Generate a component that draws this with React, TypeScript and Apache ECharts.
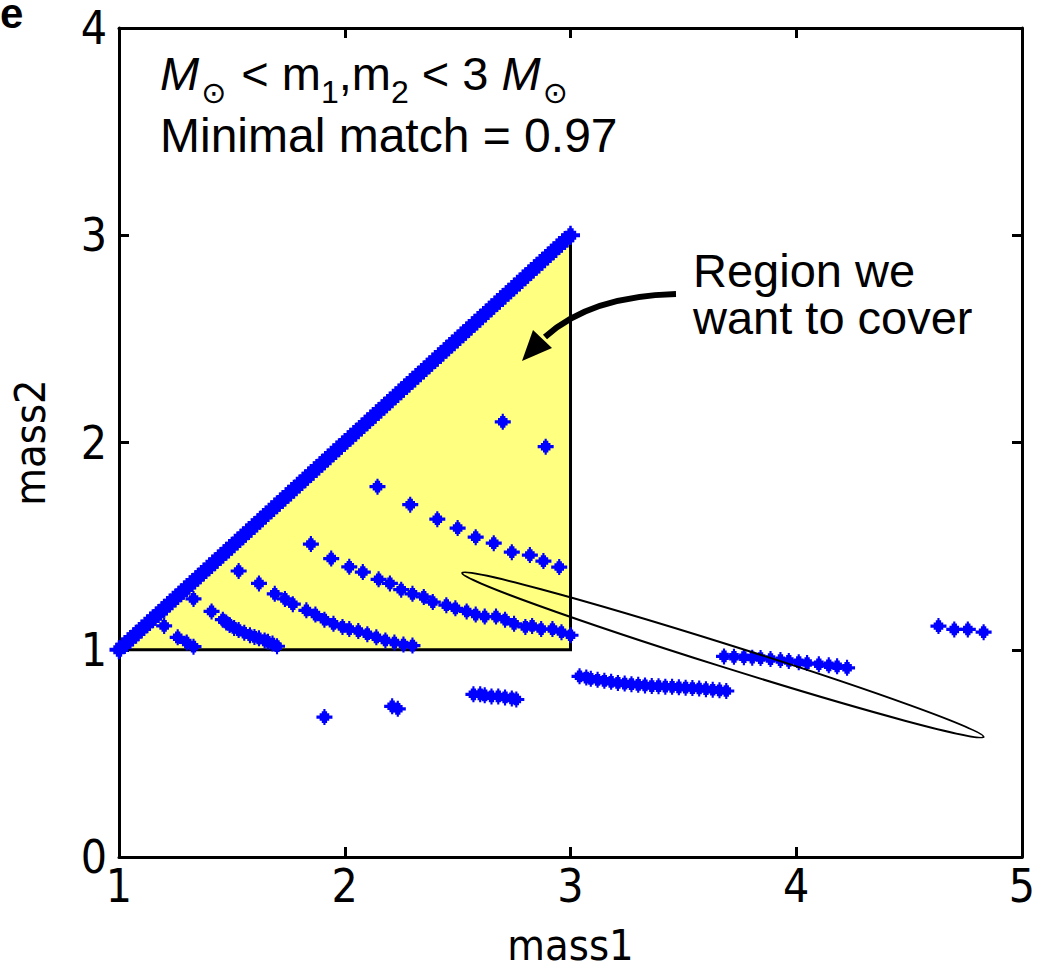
import React, { useEffect, useRef } from "react";
import * as echarts from "echarts";

// ---------- data ----------
const xTicks = [1, 2, 3, 4, 5];
const yTicks = [0, 1, 2, 3, 4];

// equal-mass template line (m1 = m2)
const diagonalMass = [1.000,1.025,1.050,1.075,1.100,1.125,1.150,1.175,1.200,1.225,1.250,1.275,1.300,1.325,1.350,1.375,1.400,1.425,1.450,1.475,1.500,1.525,1.550,1.575,1.600,1.625,1.650,1.675,1.700,1.725,1.750,1.775,1.800,1.825,1.850,1.875,1.900,1.925,1.950,1.975,2.000,2.025,2.050,2.075,2.100,2.125,2.150,2.175,2.200,2.225,2.250,2.275,2.300,2.325,2.350,2.375,2.400,2.425,2.450,2.475,2.500,2.525,2.550,2.575,2.600,2.625,2.650,2.675,2.700,2.725,2.750,2.775,2.800,2.825,2.850,2.875,2.900,2.925,2.950,2.975,3.000];

const isolatedM1 = [2.70, 2.89];
const isolatedM2 = [2.10, 1.98];

const row1M1 = [2.145, 2.29, 2.41, 2.50, 2.58, 2.66, 2.74, 2.82, 2.88, 2.95];
const row1M2 = [1.787, 1.70, 1.63, 1.587, 1.543, 1.514, 1.471, 1.457, 1.428, 1.399];

const rowAM1 = [1.85, 1.94, 2.02, 2.08, 2.15, 2.20, 2.25, 2.30, 2.35, 2.39, 2.45, 2.49, 2.54, 2.58, 2.62, 2.67, 2.71, 2.75, 2.80, 2.83, 2.87, 2.92, 2.96, 3.00];
const rowAM2 = [1.51, 1.44, 1.40, 1.375, 1.34, 1.32, 1.29, 1.27, 1.255, 1.23, 1.215, 1.20, 1.185, 1.17, 1.16, 1.16, 1.145, 1.125, 1.11, 1.115, 1.10, 1.10, 1.085, 1.07];

const rowBM1 = [1.53, 1.62, 1.69, 1.735, 1.77, 1.83, 1.87, 1.91, 1.95, 1.99, 2.02, 2.06, 2.10, 2.14, 2.18, 2.22, 2.26, 2.30];
const rowBM2 = [1.38, 1.32, 1.27, 1.245, 1.22, 1.19, 1.17, 1.145, 1.125, 1.11, 1.10, 1.09, 1.075, 1.06, 1.045, 1.035, 1.025, 1.02];

const rowCM1 = [1.33, 1.41, 1.46, 1.475, 1.49, 1.51, 1.53, 1.555, 1.58, 1.60, 1.62, 1.645, 1.66, 1.68, 1.70];
const rowCM2 = [1.245, 1.185, 1.145, 1.132, 1.12, 1.105, 1.095, 1.082, 1.07, 1.062, 1.055, 1.045, 1.038, 1.03, 1.017];

const rowDM1 = [1.20, 1.26, 1.30, 1.33];
const rowDM2 = [1.115, 1.06, 1.035, 1.015];

const lowSingleM1 = [1.91];
const lowSingleM2 = [0.675];

const lowPairM1 = [2.21, 2.235];
const lowPairM2 = [0.727, 0.715];

const lowGroupM1 = [2.57, 2.60, 2.62, 2.65, 2.68, 2.71, 2.74, 2.76];
const lowGroupM2 = [0.785, 0.785, 0.78, 0.775, 0.775, 0.77, 0.765, 0.76];

const midGroupM1 = [3.04, 3.07, 3.09, 3.12, 3.15, 3.18, 3.21, 3.24, 3.27, 3.30, 3.33, 3.36, 3.39, 3.42, 3.45, 3.48, 3.51, 3.54, 3.57, 3.60, 3.63, 3.66, 3.69];
const midGroupM2 = [0.872, 0.866, 0.860, 0.855, 0.850, 0.845, 0.840, 0.837, 0.834, 0.831, 0.828, 0.825, 0.824, 0.822, 0.821, 0.819, 0.817, 0.815, 0.813, 0.810, 0.807, 0.804, 0.801];

const highGroupM1 = [3.68, 3.724, 3.768, 3.805, 3.842, 3.886, 3.93, 3.967, 4.011, 4.048, 4.10, 4.144, 4.181, 4.225];
const highGroupM2 = [0.968, 0.966, 0.964, 0.962, 0.960, 0.955, 0.950, 0.946, 0.940, 0.936, 0.930, 0.925, 0.920, 0.913];

const farGroupM1 = [4.63, 4.70, 4.76, 4.83];
const farGroupM2 = [1.114, 1.098, 1.098, 1.085];

// region we want to cover (triangle corners)
const regionM1 = [1, 3, 3];
const regionM2 = [1, 3, 1];

// ellipse annotation (tips in data coords)
const ellipseTipA = [2.52, 1.37];
const ellipseTipB = [4.83, 0.58];

// ---------- helpers ----------
const zip = (a: number[], b: number[]) => a.map((v, i) => [v, b[i]]);

const diagonalPoints = zip(diagonalMass, diagonalMass);
const otherPoints = [
  ...zip(isolatedM1, isolatedM2),
  ...zip(row1M1, row1M2),
  ...zip(rowAM1, rowAM2),
  ...zip(rowBM1, rowBM2),
  ...zip(rowCM1, rowCM2),
  ...zip(rowDM1, rowDM2),
  ...zip(lowSingleM1, lowSingleM2),
  ...zip(lowPairM1, lowPairM2),
  ...zip(lowGroupM1, lowGroupM2),
  ...zip(midGroupM1, midGroupM2),
  ...zip(highGroupM1, highGroupM2),
  ...zip(farGroupM1, farGroupM2),
];

const AXIS_FONT = "'Liberation Sans Narrow', 'DejaVu Sans Condensed', sans-serif";
const TEXT_FONT = "'Liberation Sans', Arial, sans-serif";
const MARKER =
  "path://M6.5,0H8.5V2H10V4H12V6H15V9H12V11H10V13H8.5V15H6.5V13H5V11H3V9H0V6H3V4H5V2H6.5Z";

const axisCommon = {
  type: "value" as const,
  axisLine: { show: true, onZero: false, lineStyle: { color: "#000", width: 3 } },
  axisTick: { show: true, inside: true, length: 10, lineStyle: { color: "#000", width: 3 } },
  splitLine: { show: false },
};

export default function App() {
  const ref = useRef<HTMLDivElement>(null);

  useEffect(() => {
    const chart = echarts.init(ref.current!, null, { renderer: "svg" });

    const option: any = {
      animation: false,
      backgroundColor: "#ffffff",
      grid: { left: 117, right: 22, top: 28, bottom: 111 },
      xAxis: [
        {
          ...axisCommon,
          min: xTicks[0],
          max: xTicks[xTicks.length - 1],
          interval: 1,
          position: "bottom",
          axisLabel: {
            show: true,
            margin: 6,
            color: "#000",
            fontFamily: AXIS_FONT,
            fontSize: 46,
            formatter: (v: number) => String(v),
          },
          name: "mass1",
          nameLocation: "middle",
          nameGap: 66,
          nameTextStyle: { color: "#000", fontFamily: AXIS_FONT, fontSize: 43 },
        },
        {
          ...axisCommon,
          min: xTicks[0],
          max: xTicks[xTicks.length - 1],
          interval: 1,
          position: "top",
          axisLabel: { show: false },
        },
      ],
      yAxis: [
        {
          ...axisCommon,
          min: yTicks[0],
          max: yTicks[yTicks.length - 1],
          interval: 1,
          position: "left",
          axisLabel: {
            show: true,
            margin: 12,
            color: "#000",
            fontFamily: AXIS_FONT,
            fontSize: 46,
          },
          name: "mass2",
          nameLocation: "middle",
          nameGap: 68,
          nameRotate: 90,
          nameTextStyle: { color: "#000", fontFamily: AXIS_FONT, fontSize: 43 },
        },
        {
          ...axisCommon,
          min: yTicks[0],
          max: yTicks[yTicks.length - 1],
          interval: 1,
          position: "right",
          axisLabel: { show: false },
        },
      ],
      series: [
        {
          type: "custom",
          xAxisIndex: 0,
          yAxisIndex: 0,
          z: 1,
          silent: true,
          data: zip(regionM1, regionM2),
          renderItem: (params: any, api: any) => {
            if (params.dataIndex !== 0) return null;
            const pts = regionM1.map((m, i) => api.coord([m, regionM2[i]]));
            return {
              type: "group",
              children: [
                { type: "polygon", shape: { points: pts }, style: { fill: "#ffff80", stroke: null } },
                {
                  type: "polyline",
                  shape: { points: [pts[1], pts[2], pts[0]] },
                  style: { stroke: "#000", lineWidth: 3, fill: null },
                },
              ],
            };
          },
        },
        {
          type: "scatter",
          name: "diagonal",
          xAxisIndex: 0,
          yAxisIndex: 0,
          z: 3,
          symbol: MARKER,
          symbolSize: 19,
          itemStyle: { color: "#0000ff", opacity: 1 },
          data: diagonalPoints,
        },
        {
          type: "scatter",
          name: "templates",
          xAxisIndex: 0,
          yAxisIndex: 0,
          z: 3,
          symbol: MARKER,
          symbolSize: 16,
          itemStyle: { color: "#0000ff", opacity: 1 },
          data: otherPoints,
        },
      ],
    };

    chart.setOption(option);

    const pA = chart.convertToPixel({ gridIndex: 0 }, ellipseTipA) as number[];
    const pB = chart.convertToPixel({ gridIndex: 0 }, ellipseTipB) as number[];
    const cx = (pA[0] + pB[0]) / 2;
    const cy = (pA[1] + pB[1]) / 2;
    const dx = pB[0] - pA[0];
    const dy = pB[1] - pA[1];
    const rx = Math.sqrt(dx * dx + dy * dy) / 2;
    const angle = Math.atan2(dy, dx);

    chart.setOption({
      graphic: [
        {
          type: "text",
          x: 0,
          y: 0,
          style: {
            text: "e",
            fontFamily: TEXT_FONT,
            fontSize: 42,
            fontWeight: "bold",
            lineHeight: 26,
            fill: "#000",
          },
        },
        {
          type: "text",
          x: 160,
          y: 50,
          z: 10,
          style: {
            text: "{mi|M}{od|\u2299}{n| < m}{sub|1}{n|,m}{sub|2}{n| < 3 }{mi|M}{od|\u2299}",
            fill: "#000",
            rich: {
              n: { fontFamily: TEXT_FONT, fontSize: 47, verticalAlign: "top", lineHeight: 50 },
              mi: { fontFamily: TEXT_FONT, fontSize: 47, fontStyle: "italic", verticalAlign: "top", lineHeight: 50 },
              sub: { fontFamily: TEXT_FONT, fontSize: 32, verticalAlign: "top", lineHeight: 36, padding: [26, 0, 0, 0] },
              od: { fontFamily: "'DejaVu Sans', sans-serif", fontSize: 30, verticalAlign: "top", lineHeight: 36, padding: [27, 2, 0, 2] },
            },
          },
        },
        {
          type: "text",
          x: 160,
          y: 111,
          z: 10,
          style: { text: "Minimal match = 0.97", font: `48px ${TEXT_FONT}`, fill: "#000" },
        },
        {
          type: "text",
          x: 693,
          y: 248,
          z: 10,
          style: { text: "Region we", fontFamily: TEXT_FONT, fontSize: 47, lineHeight: 44, fill: "#000" },
        },
        {
          type: "text",
          x: 693,
          y: 295,
          z: 10,
          style: { text: "want to cover", fontFamily: TEXT_FONT, fontSize: 47, lineHeight: 44, fill: "#000" },
        },
        {
          type: "bezierCurve",
          z: 10,
          shape: { x1: 676, y1: 294, cpx1: 590, cpy1: 296, x2: 545, y2: 337 },
          style: { stroke: "#000", lineWidth: 6, fill: null },
        },
        {
          type: "polygon",
          z: 10,
          shape: { points: [[522, 361], [552, 348], [533, 330]] },
          style: { fill: "#000" },
        },
        {
          type: "ellipse",
          z: 10,
          x: cx,
          y: cy,
          rotation: -angle,
          shape: { cx: 0, cy: 0, rx, ry: 11.5 },
          style: { stroke: "#000", lineWidth: 2, fill: null },
        },
      ],
    });

    return () => chart.dispose();
  }, []);

  return (
    <div
      ref={ref}
      style={{ position: "fixed", left: 0, top: 0, width: 1044, height: 971, background: "#fff" }}
    />
  );
}
